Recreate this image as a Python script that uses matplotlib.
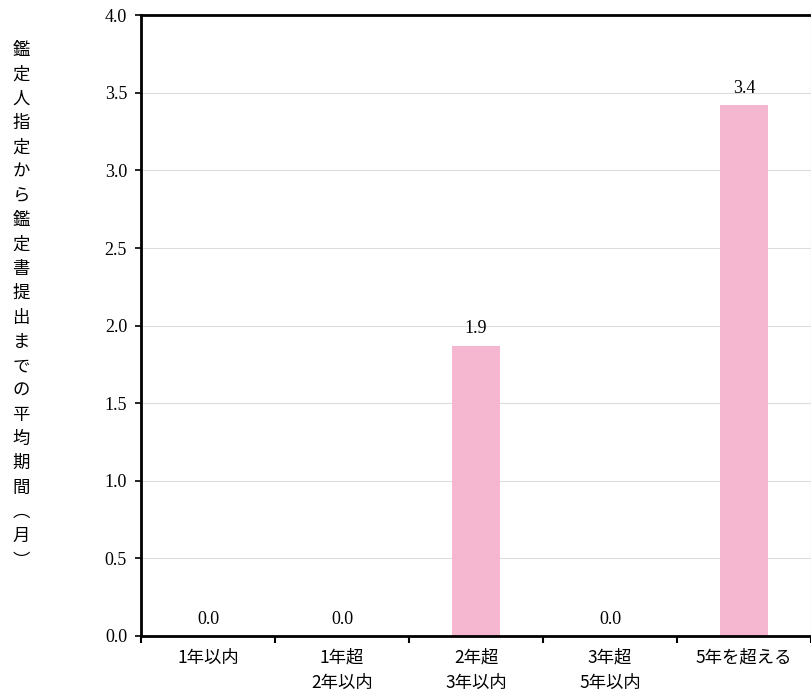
import matplotlib.pyplot as plt
import numpy as np

categories = ['1年以内', '1年超\n2年以内', '2年超\n3年以内', '3年超\n5年以内', '5年を超える']
values = [0.0, 0.0, 1.87, 0.0, 3.42]
y_label = '鑑定人指定から鑑定書提出までの平均期間︵月︶'

serif = ['Liberation Serif', 'DejaVu Serif']
gothic = ['Noto Sans CJK JP', 'DejaVu Sans']

fig = plt.figure(figsize=(8.12, 6.94), dpi=100)
ax = fig.add_axes([0.1736, 0.0836, 0.8254, 0.8944])

x = np.arange(len(categories))
ax.bar(x, values, width=0.36, color='#F5B6CF', zorder=2)

for xi, v in zip(x, values):
    ax.annotate('%.1f' % v, (xi, v), xytext=(0, 6), textcoords='offset points',
                ha='center', va='bottom', fontsize=13, family=serif)

ax.set_xlim(-0.5, len(categories) - 0.5)
ax.set_ylim(0, 4.0)
ax.set_yticks(np.arange(0, 4.01, 0.5))
ax.set_yticklabels(['%.1f' % t for t in np.arange(0, 4.01, 0.5)], family=serif, fontsize=13)
ax.set_xticks(x)
ax.set_xticklabels(categories, family=gothic, fontsize=12.5, linespacing=1.55)
ax.tick_params(axis='x', length=0, pad=9)
ax.set_xticks(np.arange(-0.5, len(categories)), minor=True)
ax.tick_params(axis='x', which='minor', length=5, width=1.5, direction='out')
ax.tick_params(axis='y', length=4, width=1.2, direction='out', pad=6)

for t in np.arange(0.5, 4.0, 0.5):
    ax.axhline(t, color='#dddddd', lw=0.8, zorder=1)

for s in ['left', 'top', 'bottom']:
    ax.spines[s].set_linewidth(2)
    ax.spines[s].set_color('black')
ax.spines['right'].set_linewidth(0.8)
ax.spines['right'].set_color('#bbbbbb')

fig.text(0.026, 0.56, '\n'.join(y_label), ha='center', va='center',
         family=gothic, fontsize=12.5, linespacing=1.45)

fig.savefig('out.png', dpi=100)
